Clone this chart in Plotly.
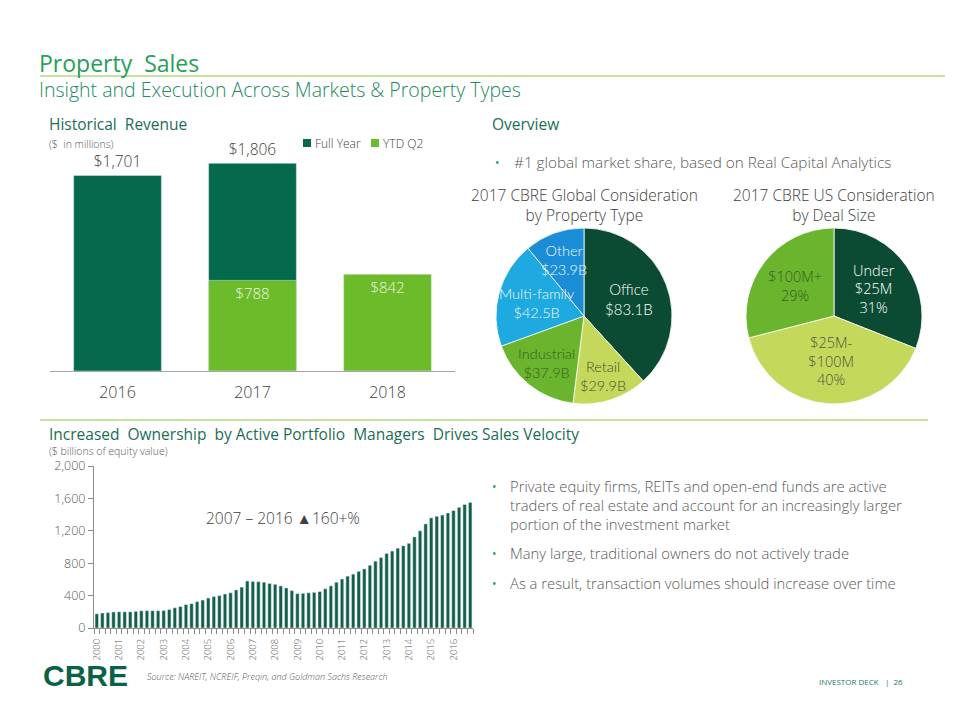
import math
import plotly.graph_objects as go

# ---------------- DATA ----------------
rev_years = ["2016", "2017", "2018"]
rev_full_year = [1701, 1806, None]
rev_ytd_q2 = [None, 788, 842]
rev_full_labels = ["$1,701", "$1,806", ""]
rev_ytd_labels = ["", "$788", "$842"]

prop_types = ["Office", "Retail", "Industrial", "Multi-family", "Other"]
prop_values = [83.1, 29.9, 37.9, 42.5, 23.9]
prop_value_labels = ["$83.1B", "$29.9B", "$37.9B", "$42.5B", "$23.9B"]

deal_sizes = ["Under<br>$25M", "$25M-<br>$100M", "$100M+"]
deal_pct = [31, 40, 29]

equity_values = [
    175, 185, 190, 198,      # 2000
    200, 200, 200, 206,      # 2001
    212, 214, 214, 214,      # 2002
    216, 228, 250, 265,      # 2003
    290, 300, 325, 345,      # 2004
    370, 388, 400, 420,      # 2005
    435, 470, 505, 580,      # 2006
    575, 572, 565, 550,      # 2007
    540, 520, 495, 462,      # 2008
    425, 428, 435, 440,      # 2009
    450, 485, 520, 565,      # 2010
    605, 640, 665, 700,      # 2011
    730, 775, 825, 870,      # 2012
    920, 950, 985, 1015,     # 2013
    1045, 1125, 1200, 1285,  # 2014
    1360, 1380, 1395, 1420,  # 2015
    1450, 1490, 1525, 1550,  # 2016
]
equity_year_labels = ["2000", "2001", "2002", "2003", "2004", "2005", "2006", "2007", "2008",
                      "2009", "2010", "2011", "2012", "2013", "2014", "2015", "2016"]
equity_y_ticks = [0, 400, 800, 1200, 1600, 2000]

# ---------------- STYLE ----------------
W, H = 960, 720
OFF = 8  # page margin of the html body
FONT = "Open Sans"
PIE_FONT = "Lato"
GRAY = "#595959"
DARK_TEXT = "#404040"
HEAD_GREEN = "#1a6e55"
TITLE_GREEN = "#26a05a"
LINE_GREEN = "#8cc63f"
BULLET_GREEN = "#2e9e5b"
FULL_GREEN = "#046a4b"
YTD_GREEN = "#6cbb2a"
PIE_DARK = "#0b4b34"
PIE_OLIVE = "#c4d85c"
PIE_GREEN = "#6ab42e"
PIE_LBLUE = "#1fa9e1"
PIE_BLUE = "#1b8dd6"
BAR2_GREEN = "#135f48"
LIGHT = 300

# pie 1 geometry (pixels) and label styling
PIE1_BOX = (496, 228, 672, 404)
PIE1_LABEL_RADIUS = [0.55, 0.72, 0.68, 0.55, 0.68]
PIE1_LABEL_COLORS = ["#ffffff", "#4a4f35", "#3b5e22", "#f2fafe", "#f2fafe"]
PIE1_LABEL_SIZES = [15, 14.5, 14.5, 14.5, 14.5]


def fx(x):
    return (x - OFF) / W


def fy(y):
    return 1 - (y - OFF) / H


fig = go.Figure()

# Historical revenue bars
fig.add_trace(go.Bar(
    x=rev_years, y=rev_full_year, name="Full Year", marker_color=FULL_GREEN,
    text=rev_full_labels, textposition="outside", cliponaxis=False,
    textfont=dict(size=15.5, color=DARK_TEXT, family=FONT, weight=LIGHT),
    xaxis="x", yaxis="y", showlegend=False, hoverinfo="skip",
))
fig.add_trace(go.Bar(
    x=rev_years, y=rev_ytd_q2, name="YTD Q2", marker_color=YTD_GREEN,
    text=rev_ytd_labels, textposition="inside", insidetextanchor="end",
    textfont=dict(size=15, color="#eef7e0", family=FONT, weight=LIGHT),
    xaxis="x", yaxis="y", showlegend=False, hoverinfo="skip",
))

# Pie 1 (labels added as annotations below)
fig.add_trace(go.Pie(
    labels=prop_types, values=prop_values, textinfo="none",
    sort=False, direction="clockwise", rotation=0,
    marker=dict(colors=[PIE_DARK, PIE_OLIVE, PIE_GREEN, PIE_LBLUE, PIE_BLUE],
                line=dict(color="white", width=0.8)),
    domain=dict(x=[fx(PIE1_BOX[0]), fx(PIE1_BOX[2])], y=[fy(PIE1_BOX[3]), fy(PIE1_BOX[1])]),
    showlegend=False, hoverinfo="skip",
))

# Pie 2
fig.add_trace(go.Pie(
    labels=deal_sizes, values=deal_pct,
    text=[f"{d}<br>{p}%" for d, p in zip(deal_sizes, deal_pct)],
    textinfo="text", textposition="inside", insidetextorientation="horizontal",
    sort=False, direction="clockwise", rotation=0,
    marker=dict(colors=[PIE_DARK, PIE_OLIVE, PIE_GREEN],
                line=dict(color="white", width=0.8)),
    insidetextfont=dict(size=14.5, family=FONT, weight=LIGHT,
                        color=["#ffffff", "#55563f", "#3b5e22"]),
    domain=dict(x=[fx(746), fx(922)], y=[fy(404), fy(228)]),
    showlegend=False, hoverinfo="skip",
))

# Bottom bar chart
fig.add_trace(go.Bar(
    x=list(range(len(equity_values))), y=equity_values, marker_color=BAR2_GREEN,
    width=0.62, xaxis="x2", yaxis="y2", showlegend=False, hoverinfo="skip",
))

fig.update_layout(
    width=W, height=H,
    margin=dict(l=0, r=0, t=0, b=0, pad=0, autoexpand=False),
    showlegend=False,
    paper_bgcolor="white", plot_bgcolor="white",
    font=dict(family=FONT, color=GRAY),
    barmode="overlay", bargap=0.35,
    uniformtext=dict(minsize=13, mode="show"),
    xaxis=dict(domain=[fx(50), fx(455)], showline=True, linecolor="#a6a6a6", linewidth=1,
               showgrid=False, zeroline=False, ticks="", ticklabelstandoff=7, automargin=False,
               tickfont=dict(size=16, color=DARK_TEXT, weight=LIGHT), fixedrange=True),
    yaxis=dict(domain=[fy(371), fy(141)], range=[0, 2000], visible=False, fixedrange=True,
               automargin=False),
    xaxis2=dict(domain=[fx(94), fx(473)], range=[-0.5, len(equity_values) - 0.5],
                anchor="y2", showline=True, linecolor="#8c8c8c", linewidth=1,
                showgrid=False, zeroline=False, ticks="", automargin=False,
                tickmode="array", tickvals=list(range(0, len(equity_values), 4)),
                ticktext=equity_year_labels, tickangle=-90, ticklabelstandoff=6,
                tickfont=dict(size=9.5, color=GRAY, weight=LIGHT),
                minor=dict(ticks="outside", ticklen=5, tickcolor="#8c8c8c",
                           tickmode="linear", tick0=-0.5, dtick=1),
                fixedrange=True),
    yaxis2=dict(domain=[fy(628), fy(466)], range=[0, 2000], anchor="x2", automargin=False,
                showline=True, linecolor="#8c8c8c", linewidth=1, showgrid=False,
                zeroline=False, ticks="outside", ticklen=5, tickcolor="#8c8c8c",
                tickmode="array", tickvals=equity_y_ticks, tickformat=",",
                tickfont=dict(size=12.5, color=GRAY, weight=LIGHT), fixedrange=True),
)

ann = []


def text(x, y, s, size, color=GRAY, xanchor="left", yanchor="middle", align="left",
         weight=LIGHT, family=FONT):
    ann.append(dict(x=fx(x), y=fy(y), xref="paper", yref="paper", text=s, showarrow=False,
                    xanchor=xanchor, yanchor=yanchor, align=align, borderpad=0,
                    font=dict(size=size, color=color, family=family, weight=weight)))


# Pie 1 slice labels, placed at each slice's mid-angle (clockwise from 12 o'clock)
cx = (PIE1_BOX[0] + PIE1_BOX[2]) / 2
cy = (PIE1_BOX[1] + PIE1_BOX[3]) / 2
rad = (PIE1_BOX[2] - PIE1_BOX[0]) / 2
total = sum(prop_values)
cum = 0.0
for i, v in enumerate(prop_values):
    mid = (cum + v / 2) / total * 2 * math.pi
    cum += v
    rr = PIE1_LABEL_RADIUS[i] * rad
    text(cx + math.sin(mid) * rr, cy - math.cos(mid) * rr,
         f"{prop_types[i]}<br>{prop_value_labels[i]}", PIE1_LABEL_SIZES[i],
         PIE1_LABEL_COLORS[i], xanchor="center", align="center", family=PIE_FONT)

# Titles
text(38, 63, "Property  Sales", 23, TITLE_GREEN, weight=400)
text(38, 89, "Insight and Execution Across Markets &amp; Property Types", 19.5, "#238a5c")
text(48, 124, "Historical  Revenue", 15.5, HEAD_GREEN, weight=400)
text(48, 144, "($  in millions)", 10.5, GRAY)
text(491, 124, "Overview", 15.5, HEAD_GREEN, weight=400)

# Legend
text(314, 143, "Full Year", 12, DARK_TEXT)
text(382, 143, "YTD Q2", 12, DARK_TEXT)

# Overview bullet
text(494, 162, "•", 12, BULLET_GREEN, weight=400)
text(513, 162, "#1 global market share, based on Real Capital Analytics", 15.3, GRAY)

# Pie titles
text(584, 205, "2017 CBRE Global Consideration<br>by Property Type", 15.5, DARK_TEXT,
     xanchor="center", align="center")
text(834, 205, "2017 CBRE US Consideration<br>by Deal Size", 15.5, DARK_TEXT,
     xanchor="center", align="center")

# Bottom section
text(48, 434, "Increased  Ownership  by Active Portfolio  Managers  Drives Sales Velocity",
     15.5, HEAD_GREEN, weight=400)
text(48, 451, "($ billions of equity value)", 10.5, GRAY)
text(283, 518, "2007 – 2016 ▲160+%", 15.5, DARK_TEXT, xanchor="center")

# Right bullets
text(491, 486, "•", 12, BULLET_GREEN, weight=400)
text(509, 505, "Private equity firms, REITs and open-end funds are active<br>"
               "traders of real estate and account for an increasingly larger<br>"
               "portion of the investment market", 14.8, GRAY)
text(491, 553, "•", 12, BULLET_GREEN, weight=400)
text(509, 553, "Many large, traditional owners do not actively trade", 14.8, GRAY)
text(491, 583, "•", 12, BULLET_GREEN, weight=400)
text(509, 583, "As a result, transaction volumes should increase over time", 14.8, GRAY)

# Footer
text(42, 675, "CBRE", 30, "#0a6246", weight=700, family="Liberation Sans")
text(146, 676, "<i>Source: NAREIT, NCREIF, Preqin, and Goldman Sachs Research</i>", 9, GRAY)
text(818, 681, "INVESTOR DECK   |  26", 8, "#2b7a5c", weight=400)

fig.update_layout(annotations=ann)

shapes = [
    dict(type="line", xref="paper", yref="paper", x0=fx(40), x1=fx(945), y0=fy(76), y1=fy(76),
         line=dict(color=LINE_GREEN, width=1.2)),
    dict(type="line", xref="paper", yref="paper", x0=fx(40), x1=fx(928), y0=fy(420), y1=fy(420),
         line=dict(color=LINE_GREEN, width=1.2)),
    dict(type="rect", xref="paper", yref="paper", x0=fx(303), x1=fx(311), y0=fy(147), y1=fy(139),
         fillcolor=FULL_GREEN, line=dict(width=0)),
    dict(type="rect", xref="paper", yref="paper", x0=fx(371), x1=fx(379), y0=fy(147), y1=fy(139),
         fillcolor=YTD_GREEN, line=dict(width=0)),
]
fig.update_layout(shapes=shapes)

fig.write_html("out.html")
